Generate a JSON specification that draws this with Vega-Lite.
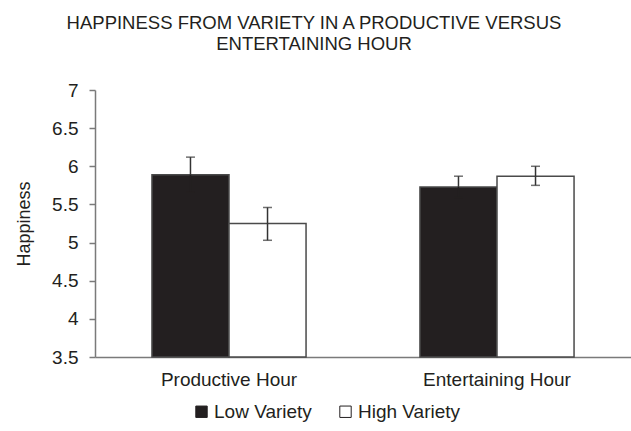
{
  "$schema": "https://vega.github.io/schema/vega-lite/v6.json",
  "autosize": "none",
  "width": 536,
  "height": 267,
  "padding": {"left": 95, "top": 90, "right": 0, "bottom": 74},
  "background": "white",
  "title": {
    "text": ["HAPPINESS FROM VARIETY IN A PRODUCTIVE VERSUS", "ENTERTAINING HOUR"],
    "fontSize": 18.5,
    "fontWeight": "normal",
    "font": "Liberation Sans",
    "color": "#231f20",
    "anchor": "middle",
    "dx": -49,
    "offset": 28,
    "lineHeight": 21
  },
  "data": {
    "values": [
      {"hour": "Productive Hour", "variety": "Low Variety", "mean": 5.89, "lo": 5.66, "hi": 6.12},
      {"hour": "Productive Hour", "variety": "High Variety", "mean": 5.25, "lo": 5.03, "hi": 5.46},
      {"hour": "Entertaining Hour", "variety": "Low Variety", "mean": 5.73, "lo": 5.59, "hi": 5.87},
      {"hour": "Entertaining Hour", "variety": "High Variety", "mean": 5.87, "lo": 5.75, "hi": 6.0}
    ]
  },
  "encoding": {
    "x": {
      "field": "hour", "type": "nominal", "sort": ["Productive Hour", "Entertaining Hour"],
      "scale": {"paddingInner": 0.425, "paddingOuter": 0.2125},
      "axis": {"title": null, "labelAngle": 0, "ticks": false, "labelPadding": 13, "labelFontSize": 19,
               "labelFont": "Liberation Sans", "labelColor": "#231f20", "domainColor": "#7a7a7a", "domainWidth": 1.5}
    },
    "xOffset": {"field": "variety", "type": "nominal", "sort": ["Low Variety", "High Variety"], "scale": {"paddingInner": 0, "paddingOuter": 0}}
  },
  "layer": [
    {
      "mark": {"type": "bar", "stroke": "#4a4a4a", "strokeWidth": 1.5},
      "encoding": {
        "y": {
          "field": "mean", "type": "quantitative", "title": "Happiness", "axis": {"format": "~g"},
          "scale": {"domain": [3.5, 7], "nice": false, "zero": false}
        },
        "y2": {"datum": 3.5},
        "fill": {
          "field": "variety", "type": "nominal", "sort": ["Low Variety", "High Variety"],
          "scale": {"range": ["#231f20", "#ffffff"]},
          "legend": {"title": null, "orient": "none", "direction": "horizontal", "legendX": 97, "legendY": 312,
                     "symbolType": "square", "symbolSize": 130, "symbolStrokeColor": "#231f20", "symbolStrokeWidth": 1,
                     "labelFontSize": 19, "labelFont": "Liberation Sans", "labelColor": "#231f20", "labelOffset": 3, "columnPadding": 24}
        }
      }
    },
    {
      "mark": {"type": "rule", "color": "#333333", "strokeWidth": 1.5},
      "encoding": {"y": {"field": "mean", "type": "quantitative", "title": "Happiness", "axis": {"format": "~g"}}, "y2": {"field": "hi"}}
    },
    {
      "mark": {"type": "rule", "strokeWidth": 1.5},
      "encoding": {
        "y": {"field": "lo", "type": "quantitative", "title": "Happiness", "axis": {"format": "~g"}}, "y2": {"field": "mean"},
        "color": {"condition": {"test": "datum.variety === 'Low Variety'", "value": "#231f20"}, "value": "#333333"}
      }
    },
    {
      "mark": {"type": "tick", "color": "#333333", "thickness": 1.5, "size": 9},
      "encoding": {"y": {"field": "hi", "type": "quantitative", "title": "Happiness", "axis": {"format": "~g"}}}
    },
    {
      "mark": {"type": "tick", "thickness": 1.5, "size": 9},
      "encoding": {
        "y": {"field": "lo", "type": "quantitative", "title": "Happiness", "axis": {"format": "~g"}},
        "color": {"condition": {"test": "datum.variety === 'Low Variety'", "value": "#231f20"}, "value": "#333333"}
      }
    }
  ],
  "config": {
    "view": {"stroke": null},
    "axisY": {"titleFontSize": 18, "titleFont": "Liberation Sans", "titleFontWeight": "normal",
              "titleColor": "#231f20", "titlePadding": 18, "values": [3.5, 4, 4.5, 5, 5.5, 6, 6.5, 7],
              "labelOverlap": false, "labelFlush": false, "labelFontSize": 19, "labelFont": "Liberation Sans", "labelColor": "#231f20", "labelPadding": 11,
              "grid": false, "tickSize": 6, "tickColor": "#7a7a7a", "tickWidth": 1.5, "domainColor": "#7a7a7a", "domainWidth": 1.5}
  }
}
